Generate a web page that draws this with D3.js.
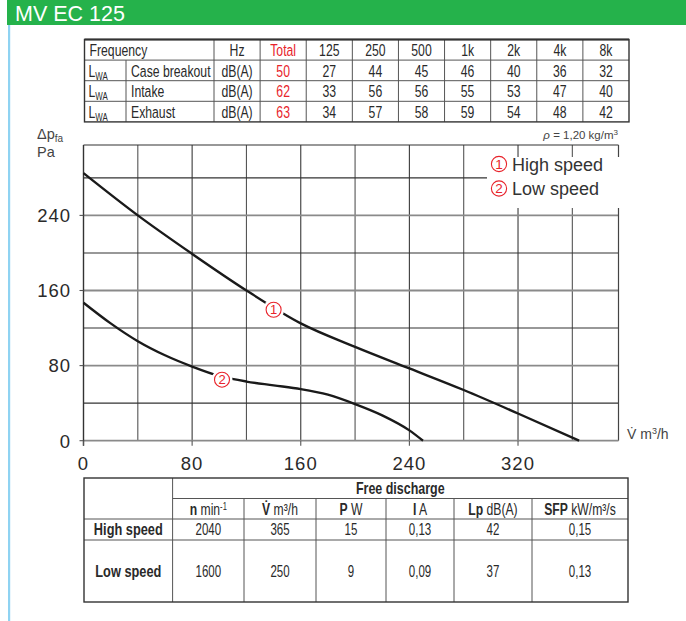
<!DOCTYPE html>
<html>
<head>
<meta charset="utf-8">
<script src="https://cdn.jsdelivr.net/npm/d3@7"></script>
<style>
  html, body { margin: 0; padding: 0; background: #fff; }
  svg { display: block; }
  .nar { font-family: "Liberation Sans", Arial, Helvetica, sans-serif; }
  .reg { font-family: "Liberation Sans", Arial, Helvetica, sans-serif; }
</style>
</head>
<body>
<svg id="chart" width="686" height="621"></svg>
<script>
// ---------- DATA ----------
const title = "MV EC 125";
const freqHeaders = ["125", "250", "500", "1k", "2k", "4k", "8k"];
const soundRowNames = ["Case breakout", "Intake", "Exhaust"];
const soundTotals = [50, 62, 63];
const caseBreakout = [27, 44, 45, 46, 40, 36, 32];
const intake = [33, 56, 56, 55, 53, 47, 40];
const exhaust = [34, 57, 58, 59, 54, 48, 42];

const flowHigh = [0, 40, 80, 120, 160, 200, 240, 280, 320, 365];
const pressHigh = [285, 240, 199, 160, 125, 100, 77, 54, 29, 0];
const flowLow = [0, 20, 40, 60, 80, 100, 120, 140, 160, 180, 200, 220, 240, 250];
const pressLow = [147, 125, 106, 91, 79, 69, 63, 59, 55, 49, 39, 27, 11, 0];

const xTicks = [0, 80, 160, 240, 320];
const yTicks = [0, 80, 160, 240];
const seriesNames = ["High speed", "Low speed"];

const perfHeaders = ["n", "V̇", "P", "I", "Lp", "SFP"];
const perfUnits = ["min", "m³/h", "W", "A", "dB(A)", "kW/m³/s"];
const perfHigh = ["2040", "365", "15", "0,13", "42", "0,15"];
const perfLow = ["1600", "250", "9", "0,09", "37", "0,13"];

// ---------- DRAW ----------
const svg = d3.select("#chart");
const red = "#e8232b";
const ink = "#2a2a2a";

function ctext(g, x, y, anchor, sx) {
  return g.append("text").attr("transform", `translate(${x},${y}) scale(${sx || 0.72},1)`).attr("text-anchor", anchor || "start");
}

// header
svg.append("rect").attr("x", 7).attr("y", 0).attr("width", 679).attr("height", 25).attr("fill", "#25b24b");
svg.append("text").attr("class", "reg").attr("x", 15).attr("y", 20.5)
  .attr("font-size", 21.5).attr("fill", "#fff").text(title);
svg.append("rect").attr("x", 8).attr("y", 25).attr("width", 2.2).attr("height", 596).attr("fill", "#8fd3f2");

// ---------- Top table ----------
const tTop = 39.5, tRowH = 20.6;
const tLeft = 84.5, tC1 = 126, tC2 = 214, tRight = 629;
const colScale = d3.scaleBand().domain(["Hz", "Total", ...freqHeaders]).range([tC2, tRight]);
const tg = svg.append("g").attr("class", "nar").attr("font-size", 17).attr("fill", ink);
const tBottom = tTop + 4 * tRowH;
const lineC = "#555";
for (let r = 1; r < 4; r++) {
  tg.append("line").attr("x1", tLeft).attr("x2", tRight).attr("y1", tTop + r * tRowH).attr("y2", tTop + r * tRowH)
    .attr("stroke", lineC).attr("stroke-width", 1);
}
tg.append("line").attr("x1", tC1).attr("x2", tC1).attr("y1", tTop + tRowH).attr("y2", tBottom).attr("stroke", lineC);
colScale.domain().forEach(d => {
  const x = colScale(d);
  tg.append("line").attr("x1", x).attr("x2", x).attr("y1", tTop).attr("y2", tBottom).attr("stroke", lineC);
});
tg.append("rect").attr("x", tLeft).attr("y", tTop).attr("width", tRight - tLeft).attr("height", tBottom - tTop)
  .attr("fill", "none").attr("stroke", "#333").attr("stroke-width", 1.4);
tg.append("line").attr("x1", tLeft).attr("x2", tRight).attr("y1", tTop).attr("y2", tTop).attr("stroke", "#333").attr("stroke-width", 2);

const rowBase = r => tTop + r * tRowH + 16.4;
const cx = d => colScale(d) + colScale.bandwidth() / 2;
ctext(tg, tLeft + 5, rowBase(0)).text("Frequency");
ctext(tg, cx("Hz"), rowBase(0), "middle").text("Hz");
ctext(tg, cx("Total"), rowBase(0), "middle").attr("fill", red).text("Total");
freqHeaders.forEach(f => ctext(tg, cx(f), rowBase(0), "middle").text(f));
const soundData = [caseBreakout, intake, exhaust];
soundRowNames.forEach((name, i) => {
  const y = rowBase(i + 1);
  const l = ctext(tg, tLeft + 4, y);
  l.append("tspan").text("L");
  l.append("tspan").attr("font-size", 11).attr("dy", 3).text("WA");
  ctext(tg, tC1 + 5, y).text(name);
  ctext(tg, cx("Hz"), y, "middle").text("dB(A)");
  ctext(tg, cx("Total"), y, "middle").attr("fill", red).text(soundTotals[i]);
  soundData[i].forEach((v, j) => ctext(tg, cx(freqHeaders[j]), y, "middle").text(v));
});

// ---------- Chart ----------
const x = d3.scaleLinear().domain([0, 394]).range([83.5, 618.5]);
const y = d3.scaleLinear().domain([0, 315]).range([440.7, 145]);
const cg = svg.append("g");

const gridX = d3.range(40, 394, 40);
const gridY = d3.range(40, 315, 40);
gridX.forEach(v => cg.append("line").attr("x1", x(v)).attr("x2", x(v)).attr("y1", y(0)).attr("y2", y(315))
  .attr("stroke", v % 80 === 0 ? "#3a3a3a" : "#555").attr("stroke-width", 1.1));
gridY.forEach(v => cg.append("line").attr("x1", x(0)).attr("x2", x(394)).attr("y1", y(v)).attr("y2", y(v))
  .attr("stroke", v % 80 === 0 ? "#8a8a8a" : "#333").attr("stroke-width", v % 80 === 0 ? 1.8 : 1.1));
cg.append("line").attr("x1", x(0)).attr("x2", x(394)).attr("y1", y(315)).attr("y2", y(315)).attr("stroke", "#333").attr("stroke-width", 1.2);
cg.append("line").attr("x1", x(394)).attr("x2", x(394)).attr("y1", y(0)).attr("y2", y(315)).attr("stroke", "#444").attr("stroke-width", 1.2);
cg.append("line").attr("x1", x(0)).attr("x2", x(394)).attr("y1", y(0)).attr("y2", y(0)).attr("stroke", "#8a8a8a").attr("stroke-width", 1.8);
cg.append("line").attr("x1", x(0)).attr("x2", x(0)).attr("y1", y(0) + 5).attr("y2", y(315)).attr("stroke", "#333").attr("stroke-width", 1.4);

// legend box (covers grid)
cg.append("rect").attr("x", 487).attr("y", 157).attr("width", 134).attr("height", 51).attr("fill", "#fff");

// curves
const line = d3.line().x(d => x(d[0])).y(d => y(d[1])).curve(d3.curveMonotoneX);
const highPts = flowHigh.map((f, i) => [f, pressHigh[i]]);
const lowPts = flowLow.map((f, i) => [f, pressLow[i]]);
cg.append("path").attr("d", line(highPts)).attr("fill", "none").attr("stroke", "#1a1a1a").attr("stroke-width", 2.4);
cg.append("path").attr("d", line(lowPts)).attr("fill", "none").attr("stroke", "#1a1a1a").attr("stroke-width", 2.4);

// ticks
xTicks.forEach(v => {
  cg.append("line").attr("x1", x(v)).attr("x2", x(v)).attr("y1", y(0)).attr("y2", y(0) + 5).attr("stroke", "#555").attr("stroke-width", 1.1);
  cg.append("text").attr("class", "reg").attr("x", x(v)).attr("y", 469.5).attr("text-anchor", "middle")
    .attr("font-size", 18.5).attr("letter-spacing", 1).attr("fill", ink).text(v);
});
yTicks.forEach(v => {
  cg.append("line").attr("x1", x(0) - 4).attr("x2", x(0)).attr("y1", y(v)).attr("y2", y(v)).attr("stroke", "#555").attr("stroke-width", 1.1);
  cg.append("text").attr("class", "reg").attr("x", 71).attr("y", y(v) + 6.8).attr("text-anchor", "end")
    .attr("font-size", 18.5).attr("letter-spacing", 1).attr("fill", ink).text(v);
});

// circled markers on curves
function marker(g, cxp, cyp, num, r, fs) {
  g.append("circle").attr("cx", cxp).attr("cy", cyp).attr("r", r + 3).attr("fill", "#fff");
  g.append("circle").attr("cx", cxp).attr("cy", cyp).attr("r", r).attr("fill", "#fff").attr("stroke", red).attr("stroke-width", 1.1);
  g.append("text").attr("class", "reg").attr("x", cxp).attr("y", cyp + fs * 0.36).attr("text-anchor", "middle")
    .attr("font-size", fs).attr("fill", red).text(num);
}
marker(cg, x(140), y(139.5), "1", 7.5, 13);
marker(cg, x(102), y(65), "2", 7.5, 13);

// legend
seriesNames.forEach((name, i) => {
  const ly = 164 + i * 24.5;
  const lg = cg.append("g");
  lg.append("circle").attr("cx", 499).attr("cy", ly).attr("r", 7.6).attr("fill", "none").attr("stroke", red).attr("stroke-width", 1.1);
  lg.append("text").attr("class", "reg").attr("x", 499).attr("y", ly + 4.8).attr("text-anchor", "middle")
    .attr("font-size", 13.5).attr("fill", red).text(i + 1);
  lg.append("text").attr("class", "reg").attr("x", 512).attr("y", ly + 6.5).attr("font-size", 18).attr("fill", "#333").text(name);
});

// axis labels
const yl = svg.append("text").attr("class", "reg").attr("x", 37).attr("y", 139).attr("font-size", 14.5).attr("fill", "#444");
yl.append("tspan").text("Δp");
yl.append("tspan").attr("font-size", 10).attr("dy", 3).text("fa");
svg.append("text").attr("class", "reg").attr("x", 37).attr("y", 157).attr("font-size", 14.5).attr("fill", "#444").text("Pa");
svg.append("text").attr("class", "reg").attr("x", 618).attr("y", 139).attr("text-anchor", "end").attr("font-size", 11.5).attr("fill", "#444")
  .html('<tspan font-style="italic">ρ</tspan> = 1,20 kg/m<tspan font-size="8" dy="-4">3</tspan>');
svg.append("text").attr("class", "reg").attr("x", 627).attr("y", 439).attr("font-size", 14).attr("fill", "#444")
  .html('V̇ m<tspan font-size="9" dy="-5">3</tspan><tspan dy="5">/h</tspan>');

// ---------- Bottom table ----------
const bCols = [84, 172.6, 244, 316, 386, 454, 532, 628];
const bRows = [478, 498.5, 519, 540, 602];
const bg = svg.append("g").attr("class", "nar").attr("font-size", 16).attr("fill", ink);
bg.append("line").attr("x1", bCols[1]).attr("x2", bCols[7]).attr("y1", bRows[1]).attr("y2", bRows[1]).attr("stroke", lineC);
bg.append("line").attr("x1", bCols[0]).attr("x2", bCols[7]).attr("y1", bRows[2]).attr("y2", bRows[2]).attr("stroke", lineC);
bg.append("line").attr("x1", bCols[0]).attr("x2", bCols[7]).attr("y1", bRows[3]).attr("y2", bRows[3]).attr("stroke", lineC);
bg.append("line").attr("x1", bCols[1]).attr("x2", bCols[1]).attr("y1", bRows[0]).attr("y2", bRows[4]).attr("stroke", lineC);
for (let c = 2; c < 7; c++) {
  bg.append("line").attr("x1", bCols[c]).attr("x2", bCols[c]).attr("y1", bRows[1]).attr("y2", bRows[4]).attr("stroke", lineC);
}
bg.append("rect").attr("x", bCols[0]).attr("y", bRows[0]).attr("width", bCols[7] - bCols[0]).attr("height", bRows[4] - bRows[0])
  .attr("fill", "none").attr("stroke", "#333").attr("stroke-width", 1.4);

ctext(bg, (bCols[1] + bCols[7]) / 2, 494, "middle", 0.78).attr("font-weight", "bold").text("Free discharge");
perfHeaders.forEach((h, i) => {
  const t = ctext(bg, (bCols[i + 1] + bCols[i + 2]) / 2, 514.5, "middle", 0.76);
  t.append("tspan").attr("font-weight", "bold").text(h);
  if (i === 0) {
    t.append("tspan").text(" min");
    t.append("tspan").attr("font-size", 10).attr("dy", -5).text("-1");
  } else {
    t.append("tspan").text(" " + perfUnits[i]);
  }
});
const rowsPerf = [[seriesNames[0], perfHigh, 535], [seriesNames[1], perfLow, 576.5]];
rowsPerf.forEach(([name, vals, yy]) => {
  ctext(bg, (bCols[0] + bCols[1]) / 2, yy, "middle", 0.8).attr("font-weight", "bold").text(name);
  vals.forEach((v, i) => ctext(bg, (bCols[i + 1] + bCols[i + 2]) / 2, yy, "middle", 0.72).text(v));
});
</script>
</body>
</html>
